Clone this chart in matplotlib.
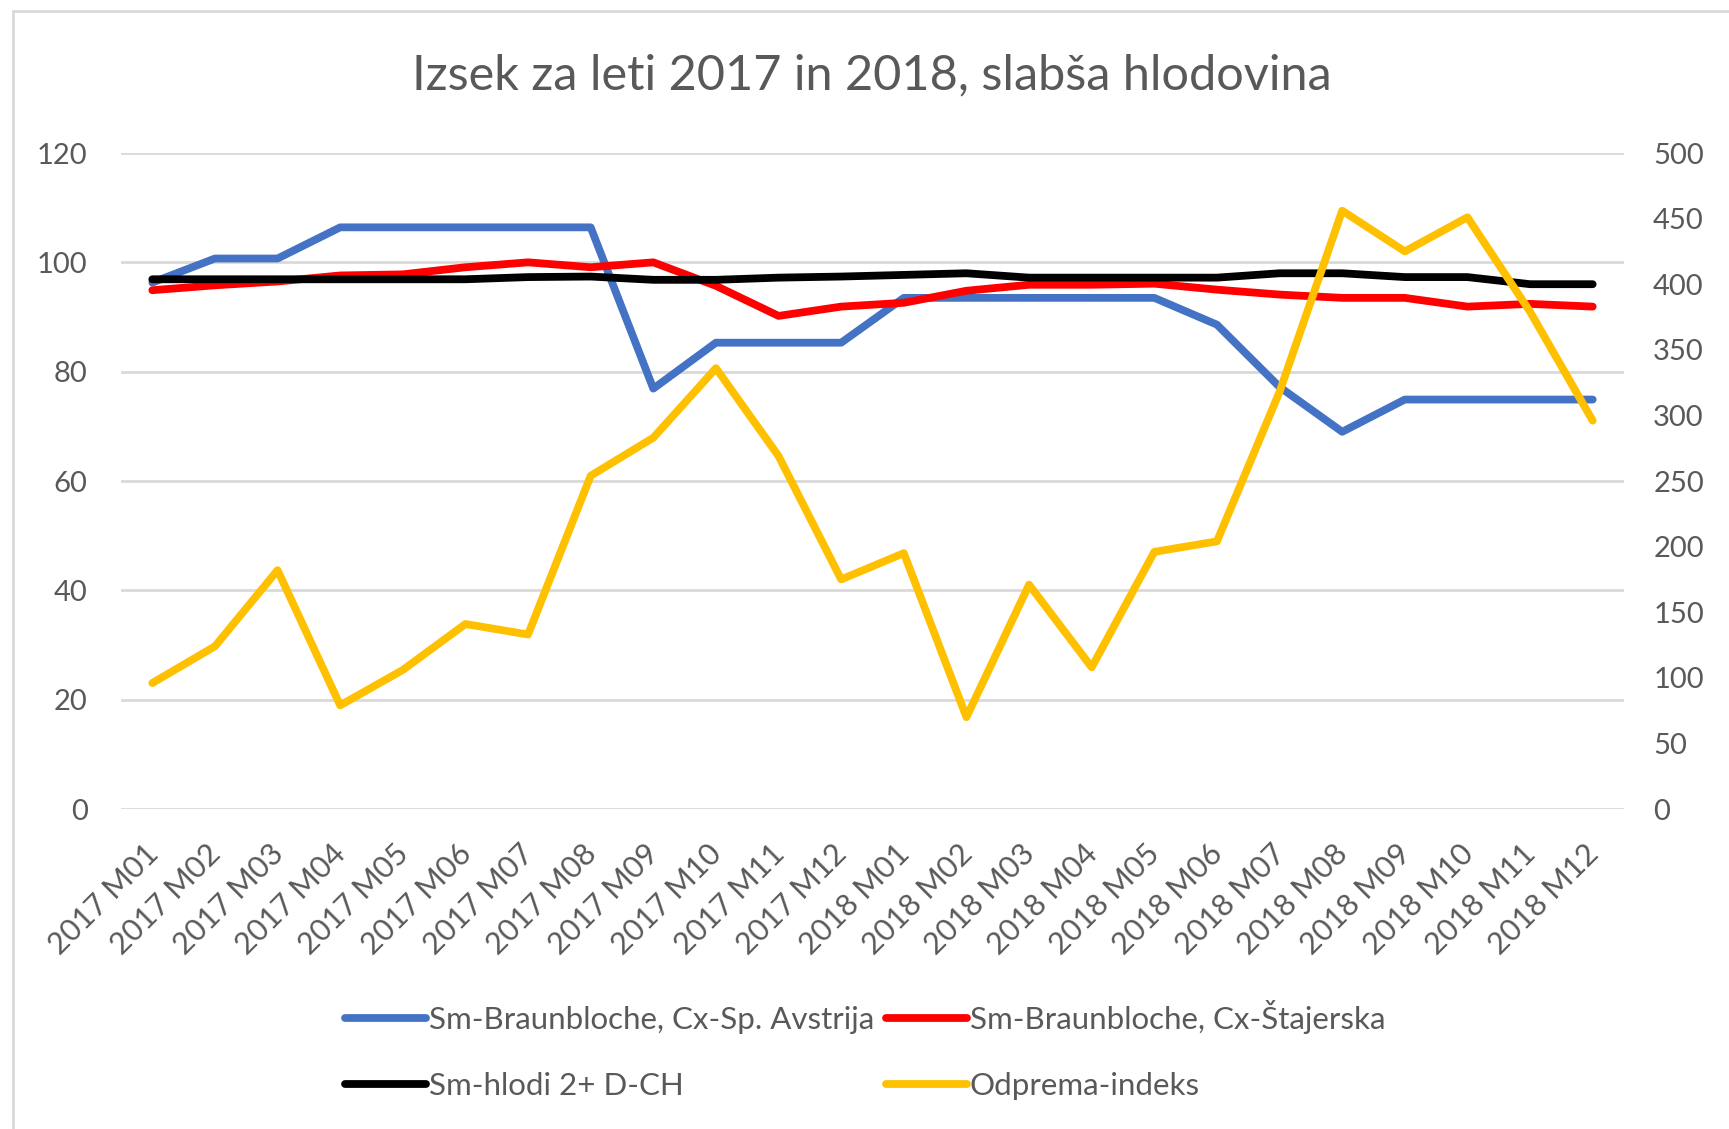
from matplotlib import pyplot as plt
from matplotlib.patches import Rectangle
from matplotlib.transforms import ScaledTranslation

months = [f"{year} M{month:02d}" for year in (2017, 2018) for month in range(1, 13)]

avstrija = [96.3, 100.7, 100.7, 106.4, 106.4, 106.4, 106.4, 106.4, 76.9, 85.3, 85.3, 85.3,
            93.5, 93.5, 93.5, 93.5, 93.5, 88.6, 77.2, 69.0, 74.9, 74.9, 74.9, 74.9]
stajerska = [94.9, 95.8, 96.5, 97.6, 97.8, 99.1, 100.0, 99.1, 100.0, 95.7, 90.2, 91.9,
             92.6, 94.8, 95.9, 95.9, 96.1, 95.0, 94.1, 93.5, 93.5, 91.9, 92.4, 91.9]
hlodi = [96.9, 96.9, 96.9, 96.9, 96.9, 96.9, 97.3, 97.4, 96.8, 96.8, 97.2, 97.4,
         97.7, 98.0, 97.2, 97.2, 97.2, 97.2, 98.0, 98.0, 97.3, 97.3, 96.0, 96.0]
odprema = [96, 124, 182, 79, 106, 141, 133, 254, 283, 336, 269, 175,
           195, 70, 171, 108, 196, 204, 318, 456, 425, 451, 379, 296]

labels = ["Sm-Braunbloche, Cx-Sp. Avstrija", "Sm-Braunbloche, Cx-Štajerska",
          "Sm-hlodi 2+ D-CH", "Odprema-indeks"]
colors = ["#4472C4", "#FF0000", "#000000", "#FFC000"]

TEXT_COLOR = "#595959"
FONT = "Lato"
LINE_WIDTH = 5.6


def main() -> None:
    plt.rcParams["font.family"] = [FONT, "DejaVu Sans"]
    fig = plt.figure(figsize=(17.29, 11.29), dpi=100)
    # light chart border, cut off on the right and bottom like the screenshot
    fig.patches.append(Rectangle((13 / 1729, -0.1), 1.2, 1.1 - 11 / 1129, transform=fig.transFigure,
                                 fill=False, edgecolor="#D9D9D9", linewidth=2))

    ax = fig.add_axes([121 / 1729, 1 - 809 / 1129, (1624 - 121) / 1729, (809 - 153) / 1129])
    ax2 = ax.twinx()
    x = list(range(len(months)))

    handles = []
    for values, color in zip([avstrija, stajerska, hlodi], colors[:3]):
        line, = ax.plot(x, values, color=color, linewidth=LINE_WIDTH,
                        solid_capstyle="round", solid_joinstyle="round")
        handles.append(line)
    line, = ax2.plot(x, odprema, color=colors[3], linewidth=LINE_WIDTH,
                     solid_capstyle="round", solid_joinstyle="round")
    handles.append(line)

    ax.set_xlim(-0.5, len(months) - 0.5)
    ax.set_ylim(0, 120)
    ax.set_yticks(range(0, 121, 20))
    ax2.set_ylim(0, 500)
    ax2.set_yticks(range(0, 501, 50))
    ax.grid(axis="y", color="#D9D9D9", linewidth=2)
    ax.set_axisbelow(True)

    for a in (ax, ax2):
        for spine in a.spines.values():
            spine.set_visible(False)
    ax.tick_params(axis="y", length=0, pad=24, labelsize=21, labelcolor=TEXT_COLOR)
    ax2.tick_params(axis="y", length=0, pad=21, labelsize=21, labelcolor=TEXT_COLOR)
    ax.set_xticks(x)
    ax.set_xticklabels(months, rotation=45, ha="right", fontsize=22, color=TEXT_COLOR)
    ax.tick_params(axis="x", length=0, pad=22)
    shift = ScaledTranslation(8 / 72, 0, fig.dpi_scale_trans)
    for label in ax.get_xticklabels():
        label.set_transform(label.get_transform() + shift)

    fig.text(0.5 * (413 + 1331) / 1729, 1 - 75 / 1129, "Izsek za leti 2017 in 2018, slabša hlodovina",
             ha="center", va="center", fontsize=35, color=TEXT_COLOR)

    order = [0, 2, 1, 3]
    fig.legend([handles[i] for i in order], [labels[i] for i in order], ncol=2,
               loc="center left", bbox_to_anchor=(345 / 1729, 1 - 1050 / 1129), frameon=False,
               fontsize=22.5, labelcolor=TEXT_COLOR, handlelength=2.6, handletextpad=0.1,
               columnspacing=0.35, labelspacing=1.2, borderpad=0, borderaxespad=0)

    fig.savefig("out.png", dpi=100)


if __name__ == "__main__":
    main()
